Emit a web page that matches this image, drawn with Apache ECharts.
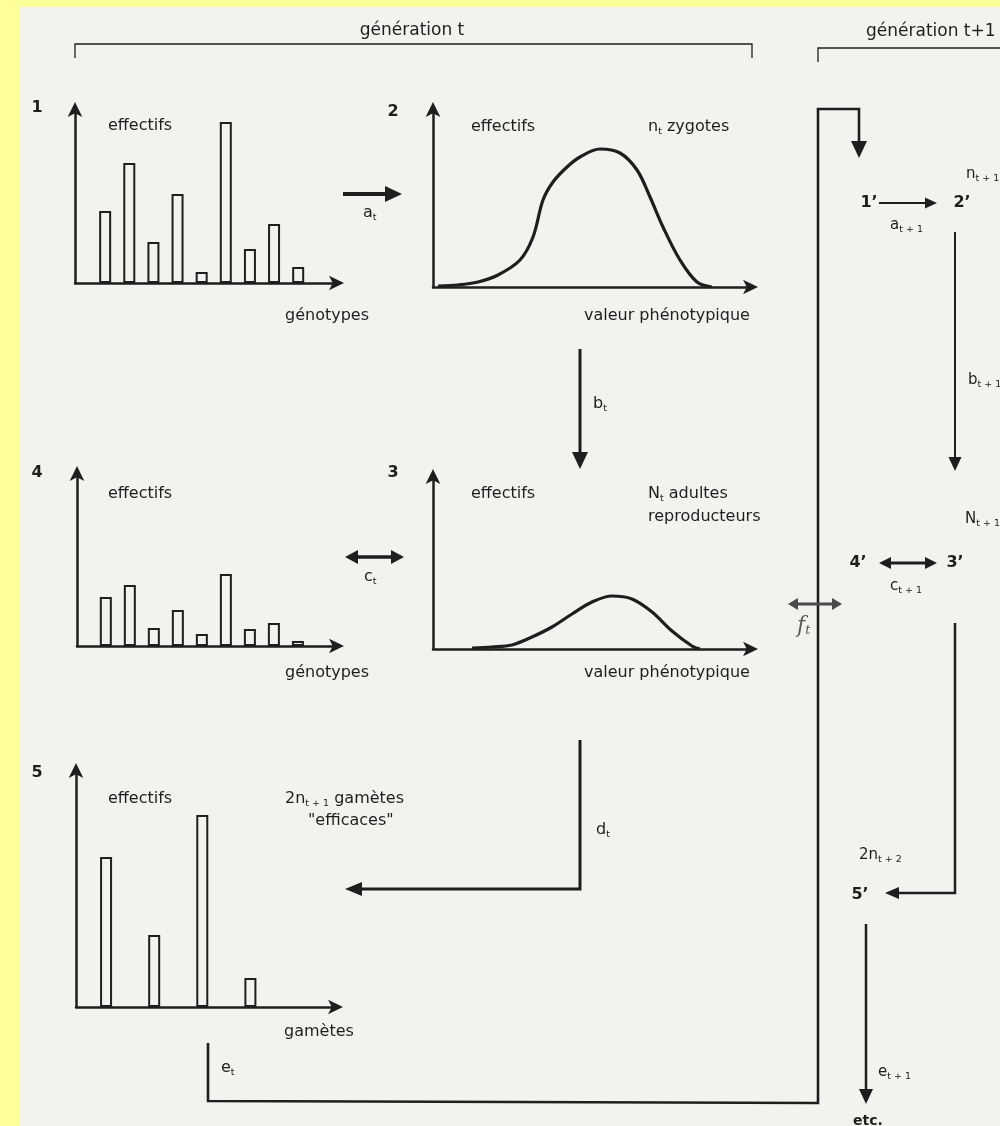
<!DOCTYPE html>
<html>
<head>
<meta charset="utf-8">
<script src="https://cdn.jsdelivr.net/npm/echarts@6/dist/echarts.min.js"></script>
<style>
html,body{margin:0;padding:0;background:#ffff99;}
#c{width:1000px;height:1126px;}
</style>
</head>
<body>
<div id="c"></div>
<script>
// ---- data ----
const genotypes = [1, 2, 3, 4, 5, 6, 7, 8, 9];
const effectifs1 = [72, 120, 41, 89, 11, 161, 34, 59, 16];      // panel 1 (zygote genotypes)
const effectifs4 = [49, 61, 18, 36, 12, 72, 17, 23, 5];          // panel 4 (adult genotypes)
const gametes = [1, 3, 5, 7];
const effectifs5 = [150, 72, 192, 29];                            // panel 5 (gametes)
const pheno2 = [5, 25, 45, 65, 87, 100, 110, 120, 134, 147, 167, 187, 204, 217, 230, 247, 264, 279];
const effectifs2 = [1, 2, 5, 12, 27, 50, 87, 105, 120, 130, 138, 134, 117, 90, 60, 27, 5, 0];   // n_t zygotes
const pheno3 = [39, 59, 79, 99, 119, 139, 159, 179, 199, 219, 239, 259, 267];
const effectifs3 = [1, 2, 4, 12, 22, 35, 47, 53, 50, 37, 18, 3, 0];   // N_t adultes

const INK = '#1e1e1e';
const BG = '#f2f2ef';
const FONT = '"DejaVu Sans", sans-serif';

const chart = echarts.init(document.getElementById('c'), null, {renderer: 'canvas'});

function grid(left, top, right, bottom) {
  return {left: left, top: top, width: right - left, height: bottom - top, containLabel: false};
}
const axisLine = {show: true, onZero: false, symbol: ['none', 'arrow'], symbolSize: [11, 15], symbolOffset: [0, 6], lineStyle: {color: INK, width: 2.5}};
function xAx(gi, min, max) {
  return {type: 'value', gridIndex: gi, min: min, max: max, axisLine: axisLine, axisTick: {show: false}, axisLabel: {show: false}, splitLine: {show: false}};
}
function yAx(gi, max) {
  return {type: 'value', gridIndex: gi, min: 0, max: max, axisLine: axisLine, axisTick: {show: false}, axisLabel: {show: false}, splitLine: {show: false}};
}
function pairs(xs, ys) { return xs.map((x, i) => [x, ys[i]]); }

// ---- decorations ----
const G = [];
function txt(x, y, t, opt) {
  opt = opt || {};
  G.push({type: 'text', x: x, y: y, z: 10, style: Object.assign({
    text: t, fill: INK, font: (opt.bold ? 'bold ' : '') + (opt.size || 16) + 'px ' + FONT,
    align: opt.align || 'left', verticalAlign: 'middle'
  }, opt.rich ? {rich: opt.rich} : {})});
}
function subRich(size, bold) {
  const w = bold ? 'bold' : 'normal';
  return {
    m: {fontSize: size, fontFamily: 'DejaVu Sans', fontWeight: w, lineHeight: 20, fill: INK, color: INK},
    s: {fontSize: 9.5, fontFamily: 'DejaVu Sans', lineHeight: 10, verticalAlign: 'bottom', color: INK, fill: INK}
  };
}
function head(tip, from, len, half, color) {
  const dx = tip[0] - from[0], dy = tip[1] - from[1];
  const d = Math.hypot(dx, dy), ux = dx / d, uy = dy / d;
  const bx = tip[0] - ux * len, by = tip[1] - uy * len;
  G.push({type: 'polygon', z: 10, shape: {points: [tip, [bx - uy * half, by + ux * half], [bx + uy * half, by - ux * half]]}, style: {fill: color}});
}
function trim(p, q, l) {
  const dx = q[0] - p[0], dy = q[1] - p[1]; const d = Math.hypot(dx, dy);
  return [p[0] + dx / d * l, p[1] + dy / d * l];
}
function arrow(pts, w, len, half, opt) {
  opt = opt || {};
  const color = opt.color || INK;
  const P = pts.map(p => p.slice());
  const n = P.length;
  head(P[n - 1], P[n - 2], len, half, color);
  P[n - 1] = trim(P[n - 1], P[n - 2], len * 0.6);
  if (opt.both) { head(pts[0], pts[1], len, half, color); P[0] = trim(P[0], P[1], len * 0.6); }
  G.push({type: 'polyline', z: 10, shape: {points: P}, style: {stroke: color, lineWidth: w, fill: null, lineJoin: 'miter'}});
}
function line(pts, w) {
  G.push({type: 'polyline', z: 10, shape: {points: pts}, style: {stroke: INK, lineWidth: w, fill: null}});
}

// page background (yellow scan border shows at left and top)
G.push({type: 'rect', z: -10, shape: {x: 20, y: 7, width: 980, height: 1119}, style: {fill: BG}});

// brackets
line([[75, 58], [75, 44], [752, 44], [752, 58]], 1.3);
line([[818, 62], [818, 48], [1000, 48]], 1.3);
txt(412, 31, 'génération t', {size: 17, align: 'center'});
txt(866, 32, 'génération t+1', {size: 17});

// panel numbers & texts
txt(37, 108, '1', {bold: true, size: 16, align: 'center'});
txt(393, 112, '2', {bold: true, size: 16, align: 'center'});
txt(393, 473, '3', {bold: true, size: 16, align: 'center'});
txt(37, 473, '4', {bold: true, size: 16, align: 'center'});
txt(37, 773, '5', {bold: true, size: 16, align: 'center'});

txt(108, 126, 'effectifs');
txt(285, 316, 'génotypes');
txt(471, 127, 'effectifs');
txt(648, 127, '{m|n}{s|t}{m| zygotes}', {rich: subRich(16)});
txt(584, 316, 'valeur phénotypique');
txt(108, 494, 'effectifs');
txt(285, 673, 'génotypes');
txt(471, 494, 'effectifs');
txt(648, 494, '{m|N}{s|t}{m| adultes}', {rich: subRich(16)});
txt(648, 517, 'reproducteurs');
txt(584, 673, 'valeur phénotypique');
txt(108, 799, 'effectifs');
txt(285, 799, '{m|2n}{s|t + 1}{m| gamètes}', {rich: subRich(16)});
txt(308, 821, '"efficaces"');
txt(284, 1032, 'gamètes');

// transition arrows, generation t
arrow([[343, 194], [402, 194]], 4, 17, 8);
txt(363, 213, '{m|a}{s|t}', {rich: subRich(16)});
arrow([[580, 349], [580, 469]], 3, 17, 8);
txt(593, 404, '{m|b}{s|t}', {rich: subRich(16)});
arrow([[345, 557], [404, 557]], 3.5, 13, 7, {both: true});
txt(364, 577, '{m|c}{s|t}', {rich: subRich(16)});
arrow([[580, 740], [580, 889], [345, 889]], 3, 17, 7);
txt(596, 830, '{m|d}{s|t}', {rich: subRich(16)});
arrow([[208, 1043], [208, 1101], [818, 1103], [818, 109], [859, 109], [859, 158]], 2.6, 17, 8);
txt(221, 1068, '{m|e}{s|t}', {rich: subRich(16)});

// generation t+1
txt(966, 174, '{m|n}{s|t + 1}', {rich: subRich(15)});
txt(869, 203, '1’', {bold: true, size: 16, align: 'center'});
arrow([[879, 203], [937, 203]], 2, 12, 5.5);
txt(962, 203, '2’', {bold: true, size: 16, align: 'center'});
txt(890, 225, '{m|a}{s|t + 1}', {rich: subRich(15)});
arrow([[955, 232], [955, 471]], 2, 14, 6.5);
txt(968, 380, '{m|b}{s|t + 1}', {rich: subRich(15)});
txt(965, 519, '{m|N}{s|t + 1}', {rich: subRich(15)});
txt(858, 563, '4’', {bold: true, size: 16, align: 'center'});
arrow([[879, 563], [937, 563]], 3, 12, 6, {both: true});
txt(955, 563, '3’', {bold: true, size: 16, align: 'center'});
txt(890, 586, '{m|c}{s|t + 1}', {rich: subRich(15)});
arrow([[788, 604], [842, 604]], 3, 10, 6, {both: true, color: '#4a4a4a'});
G.push({type: 'text', x: 797, y: 626, z: 10, style: {text: '{f|f}{t|t}', fill: '#5a5a5a', font: 'italic 20px "DejaVu Serif", serif', align: 'left', verticalAlign: 'middle',
  rich: {f: {fontSize: 22, fontStyle: 'italic', fontFamily: 'DejaVu Serif', color: '#5a5a5a', lineHeight: 22}, t: {fontSize: 13, fontStyle: 'italic', fontFamily: 'DejaVu Serif', color: '#5a5a5a', lineHeight: 13, verticalAlign: 'bottom'}}}});
arrow([[955, 623], [955, 893], [885, 893]], 2.5, 14, 6);
txt(859, 855, '{m|2n}{s|t + 2}', {rich: subRich(15)});
txt(860, 895, '5’', {bold: true, size: 16, align: 'center'});
arrow([[866, 924], [866, 1104]], 2.5, 15, 7);
txt(878, 1072, '{m|e}{s|t + 1}', {rich: subRich(15)});
txt(868, 1121, 'etc.', {bold: true, size: 14, align: 'center'});

const barStyle = {color: BG, borderColor: INK, borderWidth: 2};

chart.setOption({
  backgroundColor: '#ffff99',
  animation: false,
  grid: [
    grid(75, 108, 338, 283),   // 1
    grid(433, 108, 752, 287),  // 2
    grid(433, 475, 752, 649),  // 3
    grid(77, 472, 338, 646),   // 4
    grid(76, 769, 337, 1007)   // 5
  ],
  xAxis: [xAx(0, -0.25, 10.65), xAx(1, 0, 319), xAx(2, 0, 319), xAx(3, -0.2, 10.67), xAx(4, -0.25, 10.6)],
  yAxis: [yAx(0, 175), yAx(1, 179), yAx(2, 174), yAx(3, 174), yAx(4, 238)],
  series: [
    {type: 'bar', xAxisIndex: 0, yAxisIndex: 0, barWidth: 12, data: pairs(genotypes, effectifs1), itemStyle: barStyle, silent: true},
    {type: 'line', xAxisIndex: 1, yAxisIndex: 1, smooth: 0.35, showSymbol: false, data: pairs(pheno2, effectifs2), lineStyle: {color: INK, width: 3.2}, silent: true},
    {type: 'line', xAxisIndex: 2, yAxisIndex: 2, smooth: 0.35, showSymbol: false, data: pairs(pheno3, effectifs3), lineStyle: {color: INK, width: 3.2}, silent: true},
    {type: 'bar', xAxisIndex: 3, yAxisIndex: 3, barWidth: 12, data: pairs(genotypes, effectifs4), itemStyle: barStyle, silent: true},
    {type: 'bar', xAxisIndex: 4, yAxisIndex: 4, barWidth: 12, data: pairs(gametes, effectifs5), itemStyle: barStyle, silent: true}
  ],
  graphic: G
});
</script>
</body>
</html>
